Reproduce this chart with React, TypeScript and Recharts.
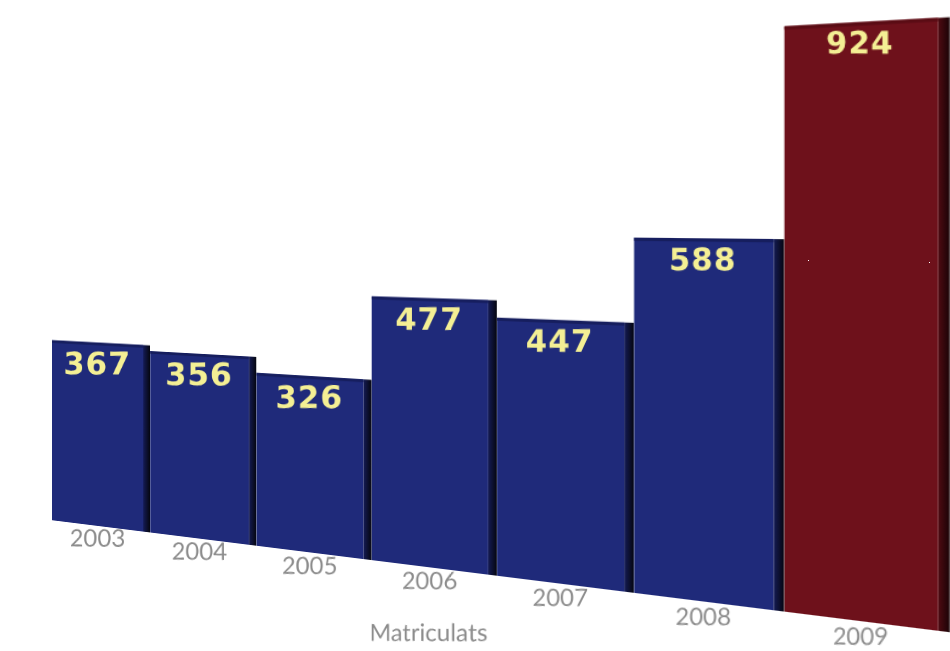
import { BarChart, Bar, XAxis, YAxis, LabelList, Label } from "recharts";

const years = ["2003", "2004", "2005", "2006", "2007", "2008", "2009"];
const matriculats = [367, 356, 326, 477, 447, 588, 924];
const highlightYear = "2009";
const axisTitle = "Matriculats";

const data = years.map((year, i) => ({ year, matriculats: matriculats[i] }));

// perspectiva: el gràfic pla es gira en 3D amb CSS
const PERSPECTIVE = 1000;
const TILT = (18.8 * Math.PI) / 180;
const ORIGIN_X = 535;
const ORIGIN_Y = 206.5;
const SIDE = 9;

const BLUE = "#1f2a7a";
const RED = "#6e111b";

// escala local que aplica la perspectiva en un punt x del pla
function depthScale(x: number) {
  const u = x - ORIGIN_X;
  return PERSPECTIVE / (PERSPECTIVE - u * Math.sin(TILT));
}

// inversa del jacobià de la perspectiva: el text es veu pla a la pantalla
function billboard(x: number, y: number) {
  const k = depthScale(x);
  const a = Math.cos(TILT) * k * k;
  const c = ((y - ORIGIN_Y) * k * k * Math.sin(TILT)) / PERSPECTIVE;
  return `matrix(${1 / a} ${-c / (a * k)} 0 ${1 / k} ${x} ${y})`;
}

function Bar3D(props: any) {
  const { x, y, width, height, payload } = props;
  const hot = payload.year === highlightYear;
  const fill = hot ? RED : BLUE;
  const grad = hot ? "url(#sideRed)" : "url(#sideBlue)";
  return (
    <g>
      <rect x={x} y={y} width={width - SIDE} height={height} fill={fill} />
      <rect x={x + width - SIDE} y={y} width={SIDE} height={height} fill={grad} />
      <rect x={x} y={y} width={width - SIDE} height={3} fill={hot ? "#5a0c14" : "#161e5e"} />
    </g>
  );
}

function ValueLabel(props: any) {
  const { x, y, width, value } = props;
  const cx = x + (width - SIDE) / 2;
  const k = depthScale(cx);
  return (
    <g transform={billboard(cx, y + 21 / k)}>
      <text
        x={0}
        y={0}
        textAnchor="middle"
        dominantBaseline="central"
        fill="#f4ef94"
        fontFamily="DejaVu Sans"
        fontWeight="bold"
        fontSize={31}
        letterSpacing={1}
      >
        {value}
      </text>
    </g>
  );
}

function YearTick(props: any) {
  const { x, y, payload } = props;
  return (
    <g transform={billboard(x - 4, y + 5)}>
      <text
        x={0}
        y={0}
        textAnchor="middle"
        dominantBaseline="central"
        fill="#8c8c8c"
        fontFamily="Lato"
        fontSize={24}
      >
        {payload.value}
      </text>
    </g>
  );
}

function AxisTitle(props: any) {
  const { viewBox } = props;
  const cx = viewBox.x + viewBox.width / 2;
  return (
    <g transform={billboard(cx - 6, viewBox.y + 66)}>
      <text
        x={0}
        y={0}
        textAnchor="middle"
        dominantBaseline="central"
        fill="#8c8c8c"
        fontFamily="Lato"
        fontSize={24}
      >
        {axisTitle}
      </text>
    </g>
  );
}

export default function App() {
  return (
    <div style={{ position: "fixed", inset: 0, overflow: "hidden", background: "#fff" }}>
      <div
        style={{
          position: "absolute",
          left: -60,
          top: 0,
          width: 1030,
          height: 700,
          transform: `perspective(${PERSPECTIVE}px) rotateY(-18.8deg)`,
          transformOrigin: `${ORIGIN_X}px ${ORIGIN_Y}px`,
        }}
      >
        <BarChart
          width={1030}
          height={700}
          data={data}
          margin={{ top: 0, right: 63, left: 13, bottom: 49 }}
          barCategoryGap={0}
        >
          <defs>
            <linearGradient id="sideBlue" x1="0" y1="0" x2="1" y2="0">
              <stop offset="0%" stopColor="#141b55" />
              <stop offset="100%" stopColor="#05060f" />
            </linearGradient>
            <linearGradient id="sideRed" x1="0" y1="0" x2="1" y2="0">
              <stop offset="0%" stopColor="#4e0b12" />
              <stop offset="100%" stopColor="#1a0306" />
            </linearGradient>
          </defs>
          <XAxis
            dataKey="year"
            axisLine={false}
            tickLine={false}
            height={78}
            interval={0}
            tick={<YearTick />}
          >
            <Label content={<AxisTitle />} />
          </XAxis>
          <YAxis hide domain={[0, 1000]} />
          <Bar dataKey="matriculats" shape={<Bar3D />} isAnimationActive={false}>
            <LabelList dataKey="matriculats" content={<ValueLabel />} />
          </Bar>
        </BarChart>
      </div>
    </div>
  );
}
